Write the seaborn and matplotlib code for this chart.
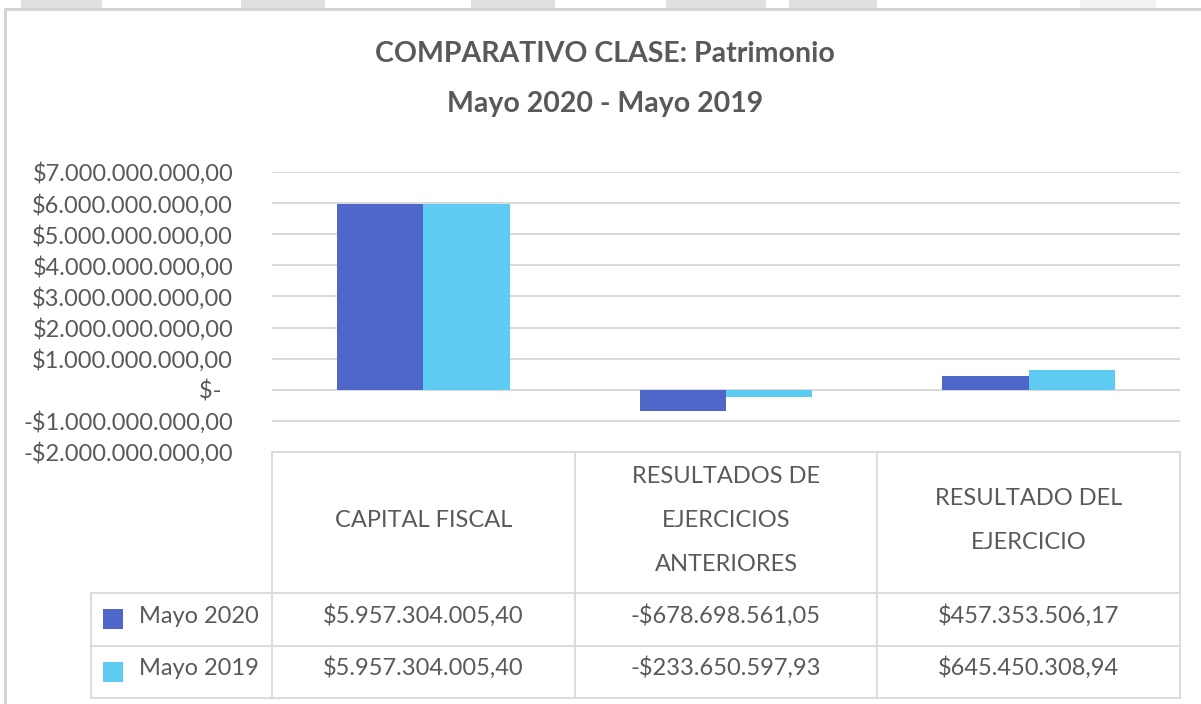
import matplotlib
matplotlib.use("Agg")
import matplotlib.pyplot as plt
from matplotlib.patches import Rectangle
from matplotlib.lines import Line2D
import seaborn as sns
import pandas as pd

# ---- data ----
categories = ["CAPITAL FISCAL",
              "RESULTADOS DE\nEJERCICIOS\nANTERIORES",
              "RESULTADO DEL\nEJERCICIO"]
series = ["Mayo 2020", "Mayo 2019"]
mayo_2020 = [5957304005.40, -678698561.05, 457353506.17]
mayo_2019 = [5957304005.40, -233650597.93, 645450308.94]
y_ticks = [-2e9, -1e9, 0, 1e9, 2e9, 3e9, 4e9, 5e9, 6e9, 7e9]
title_1 = "COMPARATIVO CLASE: Patrimonio"
title_2 = "Mayo 2020 - Mayo 2019"

colors = ["#4F67C8", "#5ECBF3"]
TXT = "#595959"
GRID = "#D9D9D9"

def fmt(v):
    s = f"{abs(v):,.2f}".replace(",", "X").replace(".", ",").replace("X", ".")
    return ("-$" if v < 0 else "$") + s

def tick_fmt(v):
    if v == 0:
        return "$-  "
    return fmt(v)

df = pd.DataFrame({
    "cat": categories * 2,
    "serie": [series[0]] * 3 + [series[1]] * 3,
    "value": mayo_2020 + mayo_2019,
})

sns.set_theme(style="white")
plt.rcParams["font.family"] = ["Lato", "DejaVu Sans"]

W, H = 1201, 704
fig = plt.figure(figsize=(W / 100, H / 100), dpi=100)
fig.patch.set_facecolor("white")

# plot area in pixel layout
L, R, T, B = 272, 1180, 172, 452
ax = fig.add_axes([L / W, 1 - B / H, (R - L) / W, (B - T) / H])
sns.barplot(data=df, x="cat", y="value", hue="serie", order=categories,
            hue_order=series, palette=colors, saturation=1, width=0.57,
            gap=0, errorbar=None, linewidth=0, legend=False, ax=ax)
ax.set_xlim(-0.5, len(categories) - 0.5)
ax.set_ylim(y_ticks[0], y_ticks[-1])
ax.set_yticks(y_ticks)
ax.set_yticklabels([tick_fmt(v) for v in y_ticks])
ax.tick_params(axis="y", length=0, pad=28, labelsize=17, labelcolor=TXT)
ax.set_xticks([])
ax.set_xlabel("")
ax.set_ylabel("")
for s in ax.spines.values():
    s.set_visible(False)
ax.yaxis.grid(True, color=GRID, linewidth=1.4)
ax.set_axisbelow(True)

# overlay in pixel coordinates
ov = fig.add_axes([0, 0, 1, 1])
ov.set_xlim(0, W)
ov.set_ylim(H, 0)
ov.axis("off")

def pxx(xd):
    return ax.transData.transform((xd, 0))[0]

# frame and top decoration
for x0, x1, c in [(21, 102, "#E0E0E0"), (241, 325, "#E0E0E0"), (471, 555, "#E0E0E0"),
                  (666, 766, "#E0E0E0"), (789, 877, "#E0E0E0"), (1080, 1156, "#F2F2F2")]:
    ov.add_patch(Rectangle((x0, 0), x1 - x0, 8, color=c, lw=0))
ov.add_line(Line2D([5, W], [9, 9], color="#D4D4D4", lw=2.2))
ov.add_line(Line2D([5, 5], [9, H], color="#D4D4D4", lw=2.2))

# titles
ov.text(605, 54, title_1, ha="center", va="center", fontsize=20.5,
        fontweight="bold", color=TXT)
ov.text(605, 104, title_2, ha="center", va="center", fontsize=20.5,
        fontweight="bold", color=TXT)

# data table
col_edges = [pxx(i - 0.5) for i in range(len(categories) + 1)]
leg_left = 91
hdr_top, hdr_bot = 452, 593
row_h = 52.5
rows_y = [hdr_bot + i * row_h for i in range(len(series) + 1)]
lw_t = 1.3
ov.add_line(Line2D([col_edges[0], col_edges[-1]], [hdr_top, hdr_top], color=GRID, lw=lw_t))
for y in rows_y:
    ov.add_line(Line2D([leg_left, col_edges[-1]], [y, y], color=GRID, lw=lw_t))
for x in col_edges:
    ov.add_line(Line2D([x, x], [hdr_top, rows_y[-1]], color=GRID, lw=lw_t))
ov.add_line(Line2D([leg_left, leg_left], [hdr_bot, rows_y[-1]], color=GRID, lw=lw_t))

FS = 17
line_gap = 44
hdr_center = 518
for i, cat in enumerate(categories):
    cx = (col_edges[i] + col_edges[i + 1]) / 2
    lines = cat.split("\n")
    n = len(lines)
    for k, ln in enumerate(lines):
        yc = hdr_center + (k - (n - 1) / 2) * line_gap
        ov.text(cx, yc + 9, ln, ha="center", va="baseline", fontsize=FS, color=TXT)

values = [mayo_2020, mayo_2019]
for r, name in enumerate(series):
    yc = (rows_y[r] + rows_y[r + 1]) / 2
    ov.add_patch(Rectangle((103, yc - 10), 20, 20, color=colors[r], lw=0))
    ov.text(139, yc + 3.5, name, ha="left", va="baseline", fontsize=FS, color=TXT)
    for i in range(len(categories)):
        cx = (col_edges[i] + col_edges[i + 1]) / 2
        ov.text(cx, yc + 3.5, fmt(values[r][i]), ha="center", va="baseline",
                fontsize=FS, color=TXT)

fig.savefig("out.png", dpi=100, facecolor="white")
